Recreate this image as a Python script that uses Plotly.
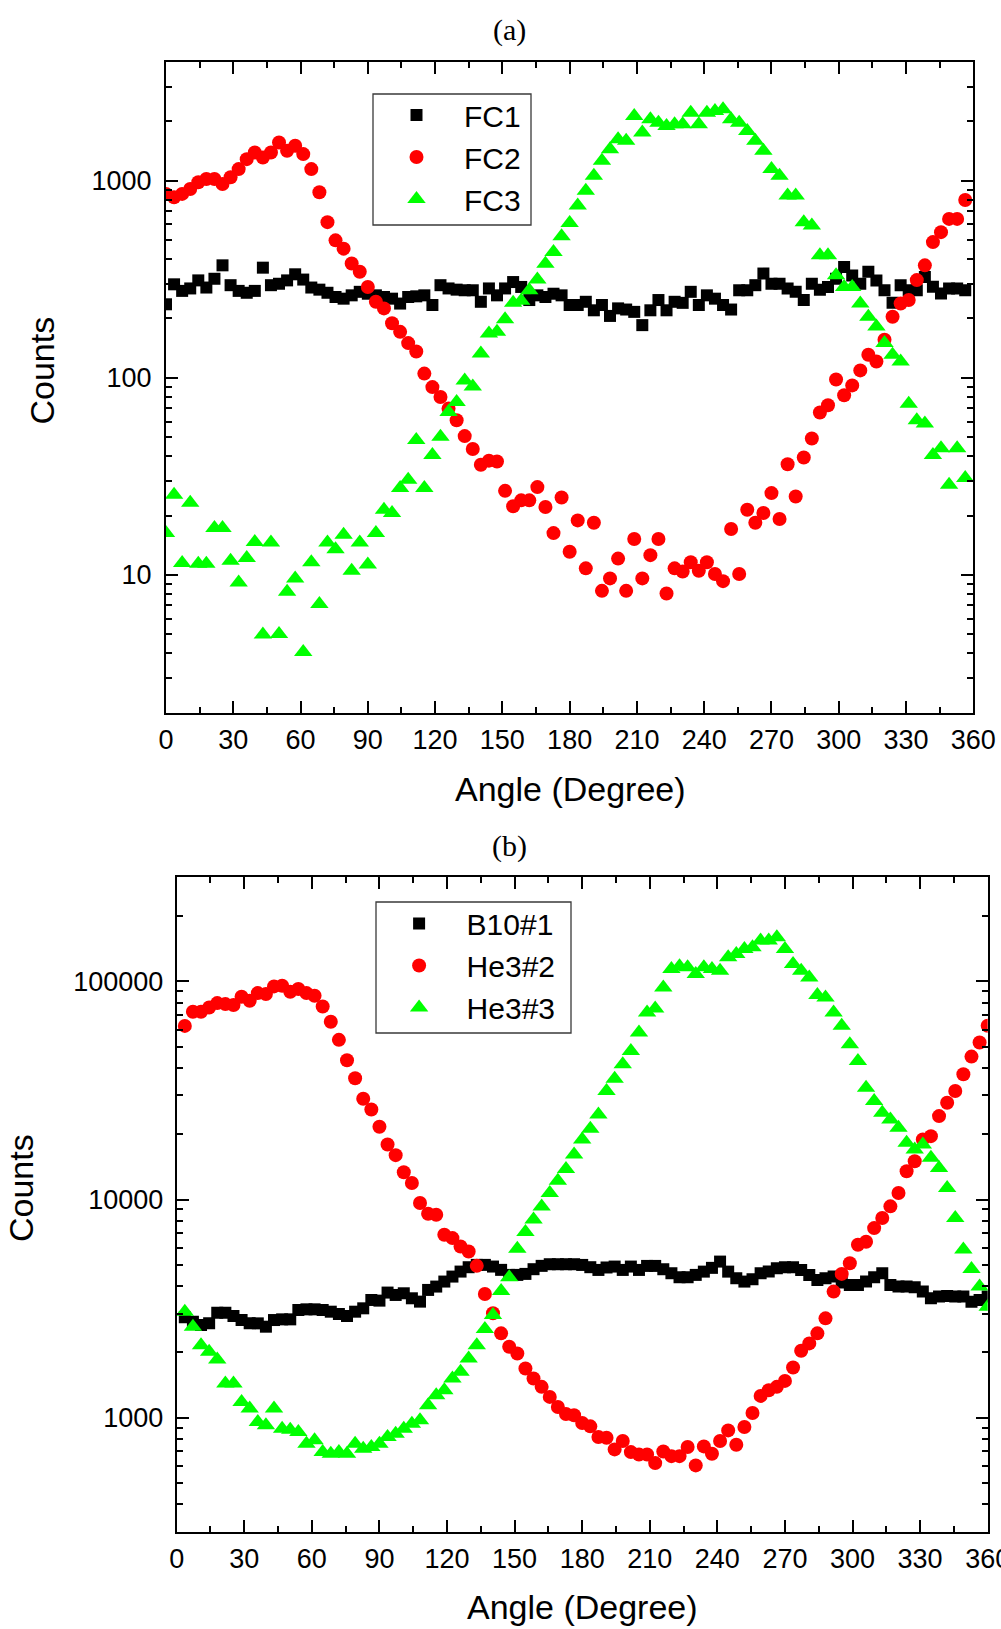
import math
import plotly.graph_objects as go

# ---------------------------------------------------------------------------
# Data: counts versus rotation angle for two detector sets
# ---------------------------------------------------------------------------
ANGLES_A = [0.0, 3.6, 7.2, 10.8, 14.4, 18.0, 21.6, 25.2, 28.8, 32.4,
            36.0, 39.6, 43.2, 46.8, 50.4, 54.0, 57.6, 61.2, 64.8, 68.4,
            72.0, 75.6, 79.2, 82.8, 86.4, 90.0, 93.6, 97.2, 100.8, 104.4,
            108.0, 111.6, 115.2, 118.8, 122.4, 126.0, 129.6, 133.2, 136.8, 140.4,
            144.0, 147.6, 151.2, 154.8, 158.4, 162.0, 165.6, 169.2, 172.8, 176.4,
            180.0, 183.6, 187.2, 190.8, 194.4, 198.0, 201.6, 205.2, 208.8, 212.4,
            216.0, 219.6, 223.2, 226.8, 230.4, 234.0, 237.6, 241.2, 244.8, 248.4,
            252.0, 255.6, 259.2, 262.8, 266.4, 270.0, 273.6, 277.2, 280.8, 284.4,
            288.0, 291.6, 295.2, 298.8, 302.4, 306.0, 309.6, 313.2, 316.8, 320.4,
            324.0, 327.6, 331.2, 334.8, 338.4, 342.0, 345.6, 349.2, 352.8, 356.4]

FC1 = [236, 298, 276, 284, 312, 287, 318, 372, 295, 276,
       270, 276, 362, 295, 300, 312, 335, 315, 287, 280,
       270, 257, 252, 262, 273, 267, 262, 257, 252, 238,
       257, 259, 262, 234, 295, 284, 280, 278, 278, 243,
       284, 262, 284, 306, 289, 248, 262, 257, 267, 262,
       234, 234, 243, 220, 234, 206, 225, 222, 216, 185,
       220, 248, 220, 243, 240, 273, 234, 262, 252, 234,
       222, 278, 278, 295, 338, 300, 300, 284, 273, 248,
       300, 280, 289, 318, 365, 330, 300, 345, 312, 278,
       240, 295, 278, 278, 325, 290, 268, 284, 284, 278]

FC2 = [857, 824, 857, 908, 981, 1020, 1020, 962, 1040, 1145,
       1286, 1390, 1312, 1390, 1562, 1418, 1503, 1364, 1145, 873,
       616, 498, 452, 380, 345, 289, 243, 225, 189, 171,
       150, 136, 105, 89.7, 79.9, 69.8, 60.9, 50.6, 43.5, 36.2,
       38.0, 37.6, 26.7, 22.3, 23.9, 23.9, 27.9, 22.1, 16.3, 24.7,
       13.1, 18.9, 10.8, 18.4, 8.3, 9.6, 12.1, 8.3, 15.2, 9.6,
       12.6, 15.2, 8.05, 10.8, 10.4, 11.6, 10.5, 11.6, 10.1, 9.3,
       17.1, 10.1, 21.4, 18.4, 20.6, 26.0, 19.2, 36.4, 25.0, 39.4,
       49.2, 66.7, 72.6, 98.1, 81.5, 91.5, 109, 131, 121, 156,
       204, 238, 248, 313, 372, 488, 548, 640, 640, 798]

FC3 = [16.3, 25.5, 11.5, 23.2, 11.4, 11.4, 17.3, 17.3, 11.8, 9.15,
       12.2, 14.7, 4.98, 14.6, 5.02, 8.21, 9.58, 4.06, 11.6, 7.11,
       14.6, 13.5, 16.0, 10.5, 14.6, 11.3, 16.3, 21.4, 20.6, 27.6,
       30.4, 48.3, 27.6, 40.6, 50.2, 67.1, 75.4, 97, 90.4, 133,
       168, 171, 198, 240, 246, 278, 315, 379, 435, 522,
       610, 748, 890, 1060, 1262, 1445, 1623, 1592, 2128, 1754,
       2048, 1970, 1896, 1933, 1933, 2214, 1933, 2214, 2256, 2301,
       2048, 1970, 1788, 1592, 1418, 1145, 1060, 840, 840, 616,
       593, 418, 418, 331, 289, 289, 238, 204, 182, 150,
       131, 121, 73.9, 60.9, 58.6, 40.6, 43.9, 28.7, 43.9, 31.0]

ANGLES_B = [3.6, 7.2, 10.8, 14.4, 18.0, 21.6, 25.2, 28.8, 32.4, 36.0,
            39.6, 43.2, 46.8, 50.4, 54.0, 57.6, 61.2, 64.8, 68.4, 72.0,
            75.6, 79.2, 82.8, 86.4, 90.0, 93.6, 97.2, 100.8, 104.4, 108.0,
            111.6, 115.2, 118.8, 122.4, 126.0, 129.6, 133.2, 136.8, 140.4, 144.0,
            147.6, 151.2, 154.8, 158.4, 162.0, 165.6, 169.2, 172.8, 176.4, 180.0,
            183.6, 187.2, 190.8, 194.4, 198.0, 201.6, 205.2, 208.8, 212.4, 216.0,
            219.6, 223.2, 226.8, 230.4, 234.0, 237.6, 241.2, 244.8, 248.4, 252.0,
            255.6, 259.2, 262.8, 266.4, 270.0, 273.6, 277.2, 280.8, 284.4, 288.0,
            291.6, 295.2, 298.8, 302.4, 306.0, 309.6, 313.2, 316.8, 320.4, 324.0,
            327.6, 331.2, 334.8, 338.4, 342.0, 345.6, 349.2, 352.8, 356.4, 360.0]

B10_1 = [2883, 2753, 2657, 2705, 3028, 3028, 2924, 2802, 2705, 2705,
         2612, 2802, 2822, 2822, 3115, 3137, 3137, 3115, 3060, 2986,
         2924, 3060, 3171, 3463, 3439, 3744, 3651, 3716, 3525, 3403,
         3850, 3989, 4206, 4433, 4673, 4893, 5015, 5015, 4928, 4758,
         4512, 4512, 4560, 4792, 4964, 5050, 5050, 5050, 5050, 5013,
         4894, 4755, 4880, 4927, 4755, 4927, 4755, 4961, 4961, 4790,
         4592, 4402, 4402, 4512, 4671, 4860, 5193, 4671, 4356, 4205,
         4310, 4592, 4671, 4842, 4894, 4894, 4755, 4512, 4280, 4356,
         4433, 4161, 4059, 4059, 4205, 4402, 4592, 4059, 3988, 3988,
         3961, 3783, 3525, 3588, 3613, 3588, 3588, 3403, 3463, 3588]

HE3_2 = [62500, 72540, 72540, 75950, 79520, 78680, 77850, 85010, 81480, 88370,
         87440, 94840, 95500, 89640, 92210, 88370, 85920, 76760, 65250, 53930,
         43480, 35940, 28990, 25880, 21550, 17870, 15970, 13330, 11910, 9636,
         8607, 8517, 6891, 6653, 6091, 5776, 4964, 3691, 3008, 2434,
         2113, 1969, 1680, 1511, 1384, 1245, 1119, 1040, 1025, 945,
         912, 815, 809, 715, 781, 695, 678, 678, 619, 700,
         666, 666, 733, 604, 738, 683, 781, 874, 751, 906,
         1051, 1258, 1335, 1384, 1474, 1698, 2025, 2189, 2434, 2852,
         3783, 4560, 5105, 6200, 6400, 7396, 8222, 9303, 10713, 13476,
         14980, 18840, 19520, 24120, 27780, 31430, 37490, 45200, 52430, 62560]

HE3_3 = [3060, 2612, 2150, 2004, 1848, 1433, 1433, 1180, 1100, 955,
         922, 1100, 890, 881, 859, 760, 787, 695, 683, 695,
         683, 760, 720, 733, 760, 815, 844, 890, 938, 972,
         1139, 1267, 1335, 1511, 1622, 1867, 2150, 2548, 2954, 3810,
         4402, 5941, 7100, 8100, 9300, 10700, 12200, 13800, 16080, 18840,
         21100, 24550, 31430, 35810, 41680, 48000, 58290, 72030, 75150, 93840,
         113900, 117200, 116000, 108100, 116000, 113900, 111900, 128900, 133600, 140800,
         143300, 153800, 153800, 159400, 140800, 120200, 111900, 104300, 86530, 84410,
         72030, 62560, 51500, 43190, 32550, 28280, 24990, 23290, 21320, 18190,
         16950, 17870, 15520, 13960, 11290, 8222, 5900, 4800, 3990, 3225]

X_TICKS = [0, 30, 60, 90, 120, 150, 180, 210, 240, 270, 300, 330, 360]
X_MINOR = [15, 45, 75, 105, 135, 165, 195, 225, 255, 285, 315, 345]
Y_TICKS_A = [10, 100, 1000]
Y_TICKS_B = [1000, 10000, 100000]

# ---------------------------------------------------------------------------
# Layout helpers (pixel positions converted to paper fractions)
# ---------------------------------------------------------------------------
W, H = 1001, 1629
SANS = "Liberation Sans"
SERIF = "Liberation Serif"


def fx(px):
    return px / W


def fy(px):
    return 1 - px / H


def log_minor(lo_exp, hi_exp, lo, hi):
    vals = []
    for e in range(lo_exp, hi_exp + 1):
        for m in range(2, 10):
            v = m * 10 ** e
            if lo <= v <= hi:
                vals.append(v)
    return vals


def base_axis():
    return dict(showline=True, linecolor="black", linewidth=2, mirror="ticks",
                ticks="inside", ticklen=12, tickwidth=2, tickcolor="black",
                showgrid=False, zeroline=False, automargin=False,
                ticklabeloverflow="allow",
                tickfont=dict(family=SANS, size=27, color="black"))


def x_axis(domain, anchor):
    ax = base_axis()
    ax.update(domain=domain, anchor=anchor, range=[0, 360],
              tickmode="array", tickvals=X_TICKS,
              ticktext=[str(v) for v in X_TICKS], ticklabelstandoff=2,
              minor=dict(tickmode="array", tickvals=X_MINOR, ticks="inside",
                         ticklen=6, tickwidth=2, tickcolor="black",
                         showgrid=False))
    return ax


def y_axis(domain, anchor, lo, hi, major, standoff):
    ax = base_axis()
    lo_e = int(math.floor(math.log10(lo)))
    hi_e = int(math.floor(math.log10(hi)))
    ax.update(domain=domain, anchor=anchor, type="log",
              range=[math.log10(lo), math.log10(hi)],
              tickmode="array", tickvals=major,
              ticktext=[str(v) for v in major], ticklabelstandoff=standoff,
              minor=dict(tickmode="array",
                         tickvals=log_minor(lo_e, hi_e, lo, hi),
                         ticks="inside", ticklen=6, tickwidth=2,
                         tickcolor="black", showgrid=False))
    return ax


SQUARE = dict(symbol="square", size=12, color="#000000")
CIRCLE = dict(symbol="circle", size=14, color="#ff0000")
TRIANGLE = dict(symbol="triangle-up", size=16, color="#00ff00")

fig = go.Figure()

# Panel (a)
fig.add_trace(go.Scatter(x=ANGLES_A, y=FC1, mode="markers", name="FC1",
                         marker=SQUARE, xaxis="x", yaxis="y", legend="legend"))
fig.add_trace(go.Scatter(x=ANGLES_A, y=FC2, mode="markers", name="FC2",
                         marker=CIRCLE, xaxis="x", yaxis="y", legend="legend"))
fig.add_trace(go.Scatter(x=ANGLES_A, y=FC3, mode="markers", name="FC3",
                         marker=TRIANGLE, xaxis="x", yaxis="y", legend="legend"))

# Panel (b)
fig.add_trace(go.Scatter(x=ANGLES_B, y=B10_1, mode="markers", name="B10#1",
                         marker=SQUARE, xaxis="x2", yaxis="y2", legend="legend2"))
fig.add_trace(go.Scatter(x=ANGLES_B, y=HE3_2, mode="markers", name="He3#2",
                         marker=CIRCLE, xaxis="x2", yaxis="y2", legend="legend2"))
fig.add_trace(go.Scatter(x=ANGLES_B, y=HE3_3, mode="markers", name="He3#3",
                         marker=TRIANGLE, xaxis="x2", yaxis="y2", legend="legend2"))

legend_style = dict(xanchor="left", yanchor="top", bgcolor="rgba(0,0,0,0)",
                    borderwidth=0,
                    font=dict(family=SANS, size=30, color="black"),
                    itemwidth=85, tracegroupgap=0)

# Legend frames
shapes = []


def frame(x0, y0, x1, y1):
    shapes.append(dict(type="rect", xref="paper", yref="paper",
                       x0=fx(x0), x1=fx(x1), y0=fy(y1), y1=fy(y0),
                       line=dict(color="#3a3a3a", width=1.3),
                       fillcolor="white", layer="above"))


frame(373, 94, 531, 225)
frame(376, 902, 571, 1033)

annotations = []


def label(text, x, y, size, family, angle=0):
    annotations.append(dict(text=text, x=fx(x), y=fy(y), xref="paper",
                            yref="paper", showarrow=False, textangle=angle,
                            xanchor="center", yanchor="middle",
                            font=dict(family=family, size=size, color="black")))


label("(a)", 509, 30, 30, SERIF)
label("(b)", 509, 846, 30, SERIF)
label("Angle (Degree)", 570, 789, 34, SANS)
label("Angle (Degree)", 582, 1607, 34, SANS)
label("Counts", 41.5, 371, 34, SANS, -90)
label("Counts", 21, 1188, 34, SANS, -90)

fig.update_layout(
    width=W, height=H, autosize=False,
    margin=dict(l=0, r=0, t=0, b=0, pad=0, autoexpand=False),
    paper_bgcolor="white", plot_bgcolor="white",
    showlegend=True,
    xaxis=x_axis([fx(166), fx(973.3)], "y"),
    yaxis=y_axis([fy(712.7), fy(62)], "x", 2, 4000, Y_TICKS_A, 7),
    xaxis2=x_axis([fx(176.7), fx(987.7)], "y2"),
    yaxis2=y_axis([fy(1531.7), fy(877.3)], "x2", 300, 300000, Y_TICKS_B, 6),
    legend=dict(x=fx(369), y=fy(89), **legend_style),
    legend2=dict(x=fx(371.6), y=fy(897.5), **legend_style),
    shapes=shapes,
    annotations=annotations,
)

fig.write_html("out.html")
